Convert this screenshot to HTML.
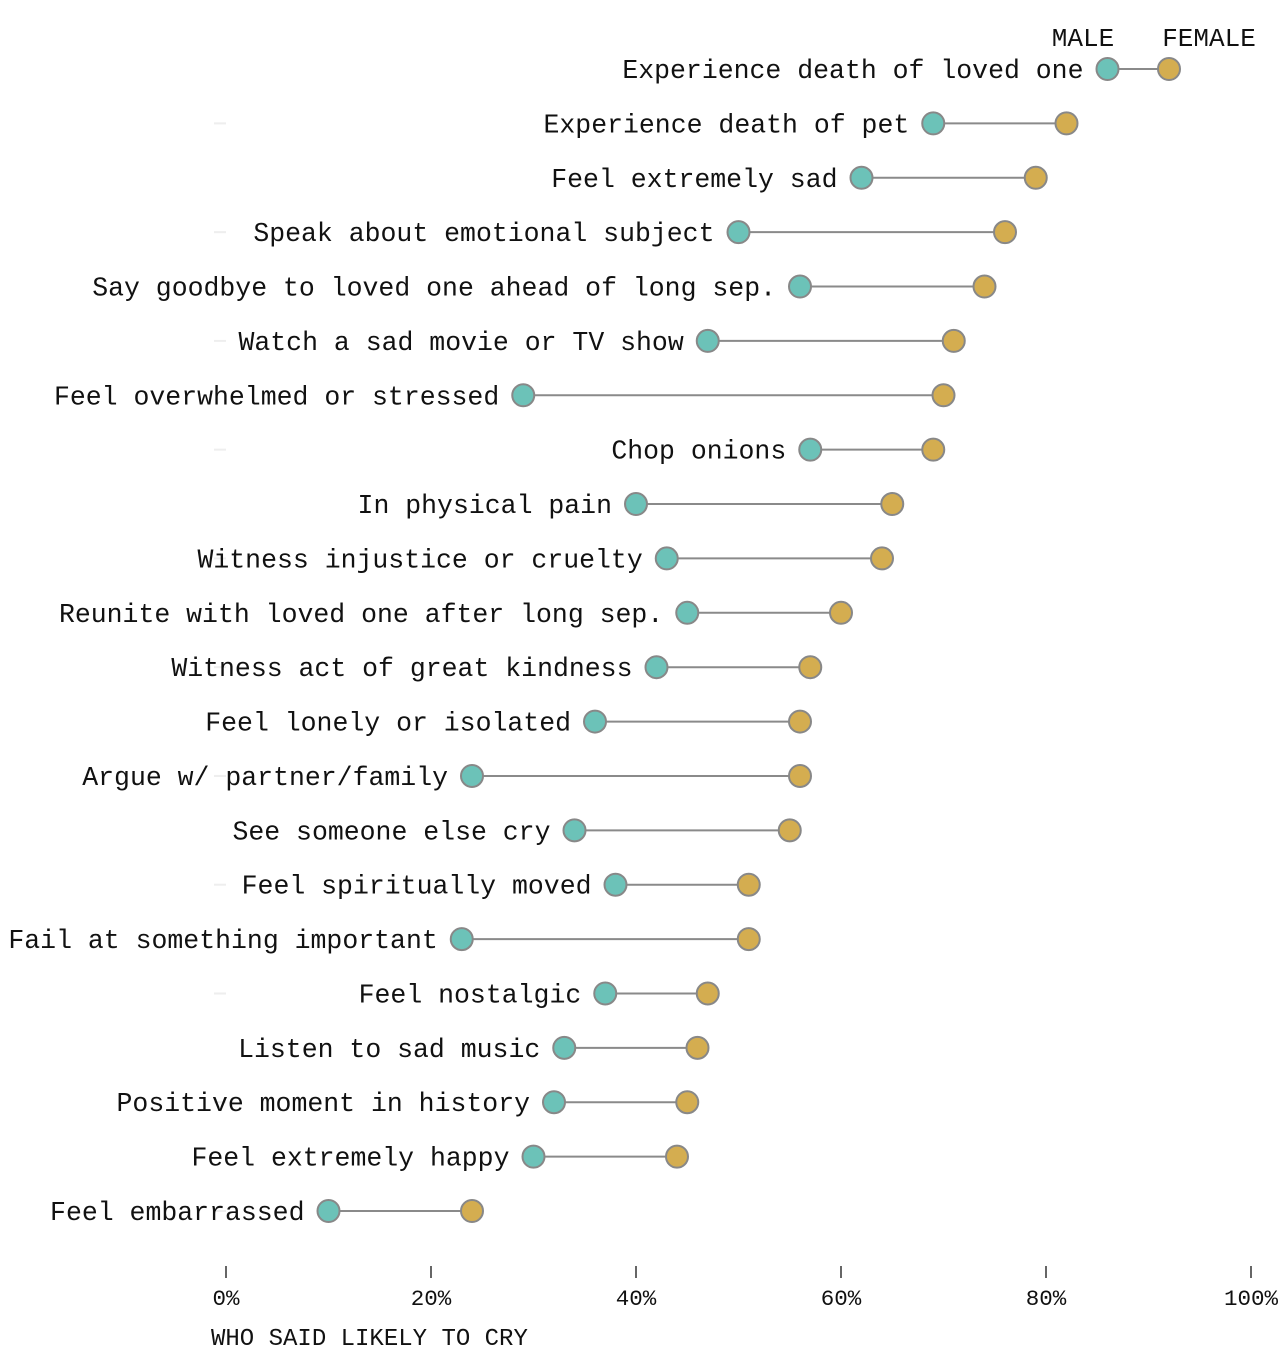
<!DOCTYPE html>
<html><head><meta charset="utf-8">
<style>
html,body{margin:0;padding:0;background:#fff;}
svg{display:block;}
text{font-family:"Liberation Mono","DejaVu Sans Mono",monospace;fill:#111;}
</style></head>
<body>
<svg id="chart" width="1288" height="1368"></svg>
<script>
const categories = ["Experience death of loved one","Experience death of pet","Feel extremely sad","Speak about emotional subject","Say goodbye to loved one ahead of long sep.","Watch a sad movie or TV show","Feel overwhelmed or stressed","Chop onions","In physical pain","Witness injustice or cruelty","Reunite with loved one after long sep.","Witness act of great kindness","Feel lonely or isolated","Argue w/ partner/family","See someone else cry","Feel spiritually moved","Fail at something important","Feel nostalgic","Listen to sad music","Positive moment in history","Feel extremely happy","Feel embarrassed"];
const maleValues = [86,69,62,50,56,47,29,57,40,43,45,42,36,24,34,38,23,37,33,32,30,10];
const femaleValues = [92,82,79,76,74,71,70,69,65,64,60,57,56,56,55,51,51,47,46,45,44,24];
const tickValues = [0,20,40,60,80,100];
const tickLabels = ["0%","20%","40%","60%","80%","100%"];

const NS="http://www.w3.org/2000/svg";
const svg=document.getElementById('chart');
const x0=226,x1=1251,yTop=69,yStep=(1211-69)/(categories.length-1);
function xScale(v){return x0+(x1-x0)*v/100;}
function yScale(i){return yTop+i*yStep;}
function mk(tag,attrs){const e=document.createElementNS(NS,tag);for(const k in attrs)e.setAttribute(k,attrs[k]);svg.appendChild(e);return e;}

categories.forEach((c,i)=>{
  const y=yScale(i);
  if(i%2===1){
    const g=mk('line',{x1:214,x2:226,y1:y,y2:y,stroke:'#eee','stroke-width':2});
    
    
  }
  const ln=mk('line',{x1:xScale(maleValues[i]),x2:xScale(femaleValues[i]),y1:y,y2:y,stroke:'#8a8a8a','stroke-width':2});
  
  
  const m=mk('circle',{cx:xScale(maleValues[i]),cy:y,r:11,fill:'#6cc2b8',stroke:'#888','stroke-width':2});
  
  
  const f=mk('circle',{cx:xScale(femaleValues[i]),cy:y,r:11,fill:'#d4ad50',stroke:'#888','stroke-width':2});
  
  
  const t=mk('text',{x:xScale(maleValues[i])-24,y:y+9,'text-anchor':'end','font-size':'26.5px'});
  t.textContent=c;
  
  
});

tickValues.forEach((v,i)=>{
  const x=xScale(v);
  const tk=mk('line',{x1:x,x2:x,y1:1266,y2:1278,stroke:'#333','stroke-width':1.5});
  
  
  const t=mk('text',{x:x,y:1305,'text-anchor':'middle','font-size':'22.5px'});
  t.textContent=tickLabels[i];
  
  
});

const at=mk('text',{x:211,y:1345,'font-size':'24px'});
at.textContent="WHO SAID LIKELY TO CRY";



const lm=mk('text',{x:1083,y:46,'text-anchor':'middle','font-size':'26px'});
lm.textContent="MALE";


const lf=mk('text',{x:1209,y:46,'text-anchor':'middle','font-size':'26px'});
lf.textContent="FEMALE";


</script>
</body></html>
